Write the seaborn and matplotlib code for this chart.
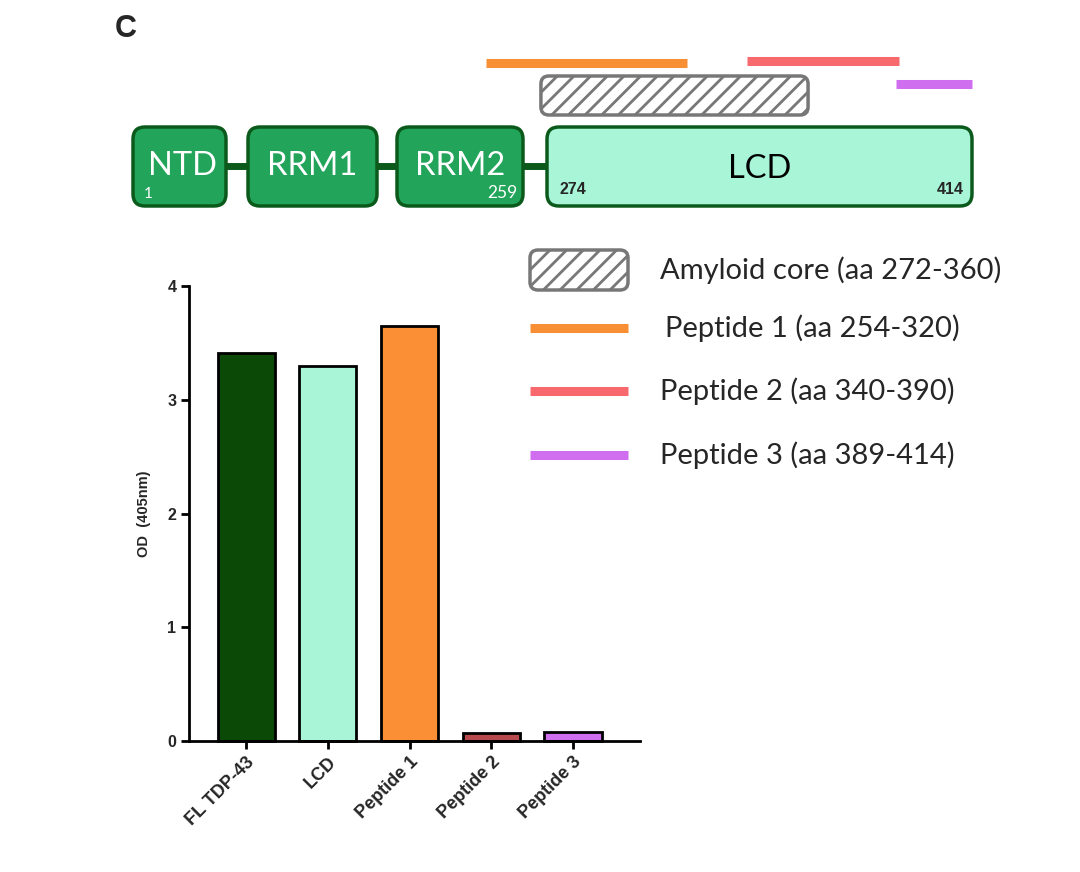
import numpy as np
import pandas as pd
import seaborn as sns
import matplotlib.pyplot as plt
from matplotlib.patches import FancyBboxPatch

# bar data (OD at 405 nm)
samples = ["FL TDP-43", "LCD", "Peptide 1", "Peptide 2", "Peptide 3"]
od_values = [3.41, 3.30, 3.65, 0.07, 0.08]
bar_colors = ["#0b4a06", "#a8f5d8", "#fa8f35", "#b84a4e", "#cf6ff0"]

# domain schematic
domain_names = ["NTD", "RRM1", "RRM2", "LCD"]
domain_px = [(133, 226), (248, 377), (397, 523), (547, 972)]   # schematic, not to scale
lcd_start, lcd_end = 274, 414

# peptides / amyloid core in amino acids
core_range = (272, 360)
peptide_names = ["Peptide 1", "Peptide 2", "Peptide 3"]
peptide_ranges = [(254, 320), (340, 390), (389, 414)]
peptide_colors = ["#f98f35", "#f8696d", "#cf6ff0"]
legend_labels = ["Amyloid core (aa 272-360)", "Peptide 1 (aa 254-320)",
                 "Peptide 2 (aa 340-390)", "Peptide 3 (aa 389-414)"]

sns.set_style("white")
plt.rcParams["hatch.linewidth"] = 2.0
plt.rcParams["font.family"] = ["Liberation Sans", "DejaVu Sans"]

W, H = 1080, 872
fig = plt.figure(figsize=(W / 100, H / 100), dpi=100)


def aa_to_px(aa):
    # LCD box is drawn to scale: 274 -> 547 px, 414 -> 972 px
    x0, x1 = domain_px[3]
    return x0 + (aa - lcd_start) * (x1 - x0) / (lcd_end - lcd_start)


# ---- bar chart ----
ax = fig.add_axes([189 / W, 1 - 741 / H, (640 - 189) / W, (741 - 286) / H])
df = pd.DataFrame({"sample": samples, "od": od_values})
sns.barplot(data=df, x="sample", y="od", hue="sample", palette=bar_colors,
            legend=False, width=0.7, edgecolor="black", linewidth=2, ax=ax,
            saturation=1)
for p in ax.patches:
    p.set_clip_on(False)
ax.set_xlim(-0.70, 4.82)
ax.set_ylim(0, 4)
ax.set_yticks([0, 1, 2, 3, 4])
sns.despine(ax=ax)
for s in ["left", "bottom"]:
    ax.spines[s].set_linewidth(2)
    ax.spines[s].set_color("black")
ax.tick_params(axis="both", which="both", direction="out", length=6, width=2,
               color="black", left=True, bottom=True, pad=3)
ax.tick_params(axis="y", labelsize=11.5)
ax.set_xticks(range(len(samples)))
ax.set_xticklabels(samples, rotation=45, ha="right", rotation_mode="anchor",
                   fontsize=13, fontweight="bold")
plt.setp(ax.get_yticklabels(), fontweight="bold")
ax.set_xlabel("")
ax.set_ylabel("OD  (405nm)", fontsize=10.5, fontweight="bold", labelpad=12)

# ---- schematic overlay in pixel coordinates ----
ov = fig.add_axes([0, 0, 1, 1])
ov.set_xlim(0, W)
ov.set_ylim(H, 0)
ov.axis("off")
ov.patch.set_alpha(0)

dfont = ["Lato", "DejaVu Sans"]
ov.text(115, 29, "C", fontsize=22, fontweight="bold", va="center", ha="left")

# connector
ov.plot([domain_px[0][1], domain_px[3][0]], [166, 166], color="#0b5a1c", lw=5,
        zorder=1, solid_capstyle="butt")
for name, (x0, x1) in zip(domain_names, domain_px):
    lcd = name == "LCD"
    box = FancyBboxPatch((x0, 127), x1 - x0, 79,
                         boxstyle="round,pad=0,rounding_size=12",
                         facecolor="#a8f5d8" if lcd else "#22a45b",
                         edgecolor="#0b5a1c", lw=2.5, zorder=2)
    ov.add_patch(box)
    ov.text((x0 + x1) / 2 + (3 if name == "NTD" else 0),
            166 if not lcd else 169, name,
            fontsize=23.5, color="black" if lcd else "white", ha="center",
            va="center", family=dfont, zorder=3)

ov.text(144, 194, "1", fontsize=11, color="white", ha="left", va="center",
        family=dfont, zorder=3)
ov.text(517, 193, "259", fontsize=12.5, color="white", ha="right", va="center",
        family=dfont, zorder=3)
ov.text(559, 189, str(lcd_start), fontsize=11.5, fontweight="bold", ha="left",
        va="center", zorder=3)
ov.text(964, 189, str(lcd_end), fontsize=11.5, fontweight="bold", ha="right",
        va="center", zorder=3)

# amyloid core
cx0, cx1 = aa_to_px(core_range[0]), aa_to_px(core_range[1])
ov.add_patch(FancyBboxPatch((cx0, 76), cx1 - cx0, 39,
                            boxstyle="round,pad=0,rounding_size=8",
                            facecolor="white", edgecolor="#777777", lw=2.5,
                            hatch="//", zorder=2))

# peptides
pep_y = [63, 61, 84]
for (a0, a1), c, y in zip(peptide_ranges, peptide_colors, pep_y):
    ov.plot([aa_to_px(a0), aa_to_px(a1)], [y, y], color=c, lw=6.5,
            solid_capstyle="butt", zorder=2)

# legend
ov.add_patch(FancyBboxPatch((530, 250), 98, 40,
                            boxstyle="round,pad=0,rounding_size=8",
                            facecolor="white", edgecolor="#777777", lw=2.5,
                            hatch="//", zorder=2))
leg_y = [270, 328, 391, 455]
for c, y in zip(peptide_colors, leg_y[1:]):
    ov.plot([530, 628], [y, y], color=c, lw=6.5, solid_capstyle="butt")
leg_x = [660, 665, 660, 660]
for lab, x, y in zip(legend_labels, leg_x, leg_y):
    ov.text(x, y, lab, fontsize=21, ha="left", va="center", family=dfont)

fig.savefig("out.png", dpi=100)
